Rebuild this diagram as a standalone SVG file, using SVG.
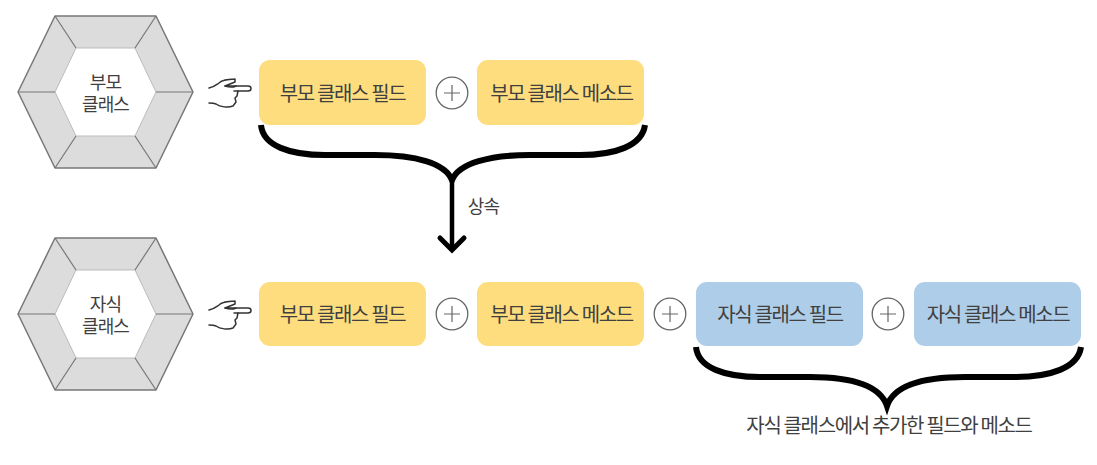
<svg xmlns="http://www.w3.org/2000/svg" xmlns:xlink="http://www.w3.org/1999/xlink" width="1097" height="465" viewBox="0 0 1097 465">
<style>
.t{font-family:"Noto Sans CJK KR","Noto Sans",sans-serif;fill:#404040;text-anchor:middle}
.box{font-size:20px;letter-spacing:-1.35px}
.small{font-family:"Liberation Sans","Noto Sans CJK KR",sans-serif;font-size:18px;letter-spacing:-.9px}
.y{fill:#fedd7f}
.b{fill:#aecde9}
.hex{fill:#dcdcdc;stroke:#777;stroke-width:1.5;stroke-linejoin:round}
.in{fill:#fff;stroke:#bbb;stroke-width:1}
.spoke{stroke:#777;stroke-width:1.2;fill:none}
.pl{fill:#fff;stroke:#666;stroke-width:1.3}
.brace{fill:none;stroke:#000;stroke-width:6;stroke-linecap:butt}
.hand{fill:none;stroke:#333;stroke-width:1.5;stroke-linecap:round;stroke-linejoin:round}
</style>
<defs>
<g id="hexshape">
<polygon class="hex" points="55,0 156,0 193,76 156,152 55,152 18,76"/>
<polygon class="in" points="76,32 135,32 156,76 135,120 76,120 55,76"/>
<path class="spoke" d="M55,0L76,32M156,0L135,32M193,76H156M156,152L135,120M55,152L76,120M18,76H55"/>
</g>
<g id="handshape">
<path class="hand" d="M209,88C214,87 216,85 219,83C222,80 226,80 235,79L235,82L225,86H248C252,86 252,91 248,91H238L237,96L235,98L236,102L233,106C228,108 220,107 216,104C214,103 212,103 209,103"/>
<path class="hand" d="M225,86C228,87 232,88 236,86M238,91H234" stroke-width="2"/>
</g>
<g id="plus">
<circle class="pl" cx="0" cy="0" r="15.8"/>
<path d="M-8,0H8M0,-8V8" fill="none" stroke="#666" stroke-width="1.2"/>
</g>
</defs>
<g id="connectors">
<path class="brace" d="M261,125C263,146 290,155 325,155H375C415,155 445,163 452,180C459,163 490,155 530,155H580C615,155 642,146 645,125"/>
<path d="M452,176V248" fill="none" stroke="#000" stroke-width="4.5"/>
<path d="M440,238L452,250L464,238" fill="none" stroke="#000" stroke-width="5" stroke-linecap="round" stroke-linejoin="miter"/>
<path class="brace" d="M696,347C698,368 725,377 760,377H810C850,377 880,385 887,406C894,385 925,377 965,377H1015C1050,377 1078,368 1081,347"/>
</g>
<g id="parent-class"><use href="#hexshape" y="16"/><text class="t small" y="89"><tspan x="105.500">부모</tspan><tspan x="105.500" dy="22">클래스</tspan></text></g>
<g id="child-class"><use href="#hexshape" y="238"/><text class="t small" y="311"><tspan x="105.500">자식</tspan><tspan x="105.500" dy="22">클래스</tspan></text></g>
<g id="hand-1"><use href="#handshape"/></g>
<g id="hand-2"><use href="#handshape" y="222"/></g>
<g id="parent-field"><rect class="y" x="259" y="60" width="167" height="65" rx="11"/><text class="t box" x="342.500" y="101">부모 클래스 필드</text></g>
<g id="plus-1"><use href="#plus" x="452" y="93"/></g>
<g id="parent-method"><rect class="y" x="477" y="60" width="167" height="65" rx="11"/><text class="t box" x="561.500" y="101">부모 클래스 메소드</text></g>
<g id="inherit-label"><text class="t small" x="483.500" y="213">상속</text></g>
<g id="child-parent-field"><rect class="y" x="259" y="282" width="167" height="64" rx="11"/><text class="t box" x="342.500" y="322">부모 클래스 필드</text></g>
<g id="plus-2"><use href="#plus" x="452" y="314"/></g>
<g id="child-parent-method"><rect class="y" x="477" y="282" width="167" height="64" rx="11"/><text class="t box" x="561.500" y="322">부모 클래스 메소드</text></g>
<g id="plus-3"><use href="#plus" x="670" y="314"/></g>
<g id="child-field"><rect class="b" x="696" y="282" width="167" height="64" rx="11"/><text class="t box" x="780" y="322">자식 클래스 필드</text></g>
<g id="plus-4"><use href="#plus" x="888" y="314"/></g>
<g id="child-method"><rect class="b" x="914" y="282" width="167" height="64" rx="11"/><text class="t box" x="998" y="322">자식 클래스 메소드</text></g>
<g id="added-label"><text class="t box" x="889" y="433">자식 클래스에서 추가한 필드와 메소드</text></g>
</svg>
